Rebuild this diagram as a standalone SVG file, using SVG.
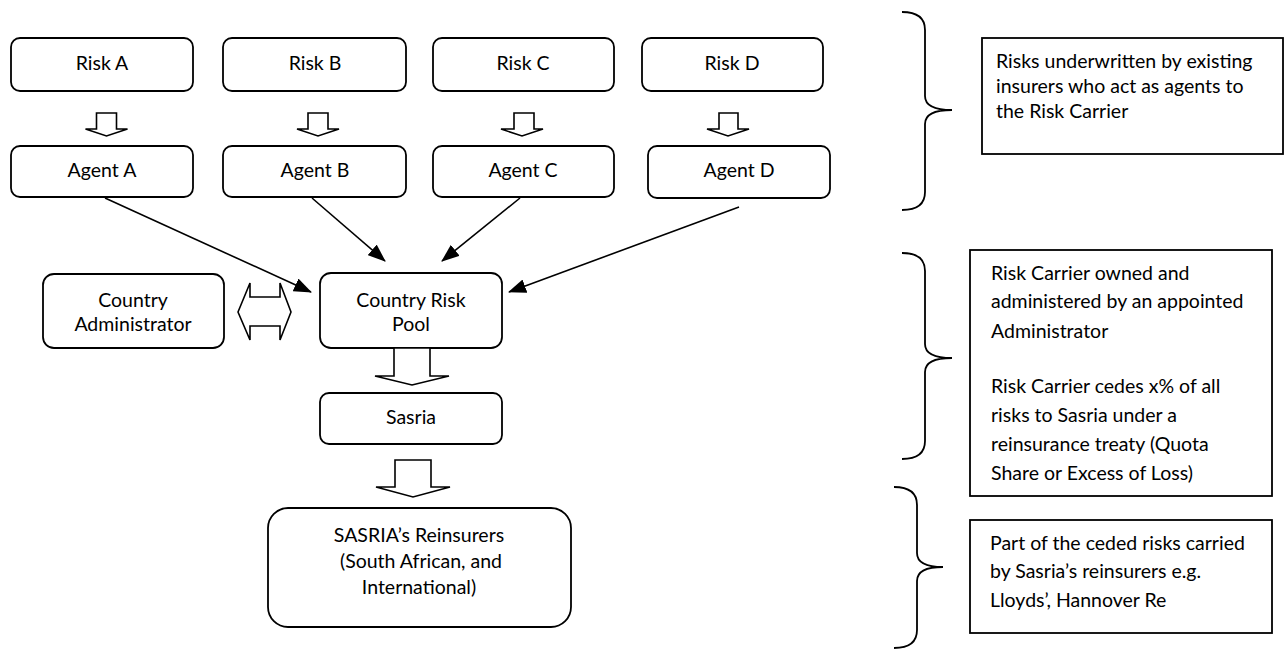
<svg xmlns="http://www.w3.org/2000/svg" width="1287" height="650" viewBox="0 0 1287 650">
<defs>
<style>
.box{fill:#fff;stroke:#000;stroke-width:1.8}
.blk{fill:#fff;stroke:#000;stroke-width:1.6;stroke-linejoin:miter}
.brace{fill:none;stroke:#000;stroke-width:1.8}
.t{font-family:Lato,"Liberation Sans",sans-serif;font-size:19.5px;fill:#000}
.c{text-anchor:middle}
.ln{stroke:#000;stroke-width:1.6;fill:none}
</style>
<marker id="ah" markerUnits="userSpaceOnUse" markerWidth="18" markerHeight="14" viewBox="0 0 18 14" refX="17" refY="7" orient="auto">
<path d="M0,0 L18,7 L0,14 Z" fill="#000"/>
</marker>
</defs>
<rect width="1287" height="650" fill="#fff"/>

<g id="riskA"><rect class="box" x="11" y="38" width="182" height="53" rx="9"/><text class="t c" x="102" y="70">Risk A</text></g>
<g id="riskB"><rect class="box" x="223" y="38" width="183" height="53" rx="9"/><text class="t c" x="315" y="70">Risk B</text></g>
<g id="riskC"><rect class="box" x="433" y="38" width="181" height="53" rx="9"/><text class="t c" x="523" y="70">Risk C</text></g>
<g id="riskD"><rect class="box" x="642" y="38" width="181" height="53" rx="9"/><text class="t c" x="732" y="70">Risk D</text></g>

<g id="agentA"><rect class="box" x="11" y="146" width="182" height="51" rx="9"/><text class="t c" x="102" y="177">Agent A</text></g>
<g id="agentB"><rect class="box" x="223" y="146" width="183" height="51" rx="9"/><text class="t c" x="315" y="177">Agent B</text></g>
<g id="agentC"><rect class="box" x="433" y="146" width="181" height="51" rx="9"/><text class="t c" x="523" y="177">Agent C</text></g>
<g id="agentD"><rect class="box" x="648" y="146" width="182" height="52" rx="9"/><text class="t c" x="739" y="177">Agent D</text></g>

<g id="countryAdmin"><rect class="box" x="43" y="274" width="181" height="74" rx="11"/><text class="t c" x="133" y="307">Country</text><text class="t c" x="133" y="331">Administrator</text></g>
<g id="countryPool"><rect class="box" x="320" y="273" width="182" height="75" rx="11"/><text class="t c" x="411" y="307">Country Risk</text><text class="t c" x="411" y="331">Pool</text></g>
<g id="sasria"><rect class="box" x="320" y="393" width="182" height="51" rx="9"/><text class="t c" x="411" y="424">Sasria</text></g>
<g id="reinsurers"><rect class="box" x="268" y="508" width="303" height="119" rx="20"/><text class="t c" x="419" y="542">SASRIA’s Reinsurers</text><text class="t c" x="421" y="568"> (South African, and</text><text class="t c" x="419" y="594">International)</text></g>

<g id="connectors">
<path class="blk" d="M96.5,113 L116.5,113 L116.5,129 L127.5,129 L106.5,136 L85.5,129 L96.5,129 Z"/>
<path class="blk" d="M308,113 L328,113 L328,129 L339,129 L318,136 L297,129 L308,129 Z"/>
<path class="blk" d="M514,113 L534,113 L534,129 L543,129 L522,136 L501,129 L514,129 Z"/>
<path class="blk" d="M719,113 L738,113 L738,129 L749,129 L728,136 L707,129 L719,129 Z"/>
<line class="ln" x1="105" y1="198" x2="311" y2="292" marker-end="url(#ah)"/>
<line class="ln" x1="312" y1="198" x2="385" y2="261" marker-end="url(#ah)"/>
<line class="ln" x1="520" y1="198" x2="442" y2="261" marker-end="url(#ah)"/>
<line class="ln" x1="739" y1="207" x2="509" y2="292" marker-end="url(#ah)"/>
<path class="blk" d="M238,312 L250,283 L250,297 L280,297 L280,283 L291,312 L280,340 L280,326 L250,326 L250,340 Z"/>
<path class="blk" d="M394,348 L430,348 L430,376 L449,376 L412,385 L375,376 L394,376 Z"/>
<path class="blk" d="M395,460 L431,460 L431,487 L450,487 L413,497 L376,487 L395,487 Z"/>
</g>

<g id="brace1"><path class="brace" d="M902,12 C917,12 925,18 925,30 L925,96 C925,105 934,110 952,110 C934,110 925,115 925,124 L925,192 C925,204 917,210 902,210"/></g>
<g id="brace2"><path class="brace" d="M902,253 C917,253 925,259 925,271 L925,344 C925,353 934,358 952,358 C934,358 925,363 925,372 L925,441 C925,453 917,459 902,459"/></g>
<g id="brace3"><path class="brace" d="M894,487 C909,487 917,493 917,505 L917,553 C917,562 926,567 943,567 C926,567 917,572 917,581 L917,630 C917,642 909,648 894,648"/></g>

<g id="note1"><rect class="box" x="982" y="38" width="301" height="116"/>
<text class="t" x="996" y="68">Risks underwritten by existing</text>
<text class="t" x="996" y="93">insurers who act as agents to</text>
<text class="t" x="996" y="118">the Risk Carrier</text></g>
<g id="note2"><rect class="box" x="970" y="250" width="302" height="246"/>
<text class="t" x="991" y="280">Risk Carrier owned and</text>
<text class="t" x="991" y="308">administered by an appointed</text>
<text class="t" x="991" y="338">Administrator</text>
<text class="t" x="991" y="393">Risk Carrier cedes x% of all</text>
<text class="t" x="991" y="422">risks to Sasria under a</text>
<text class="t" x="991" y="451">reinsurance treaty (Quota</text>
<text class="t" x="991" y="480">Share or Excess of Loss)</text></g>
<g id="note3"><rect class="box" x="970" y="520" width="302" height="113"/>
<text class="t" x="990" y="550">Part of the ceded risks carried</text>
<text class="t" x="990" y="578">by Sasria’s reinsurers e.g.</text>
<text class="t" x="990" y="607">Lloyds’, Hannover Re</text></g>
</svg>
